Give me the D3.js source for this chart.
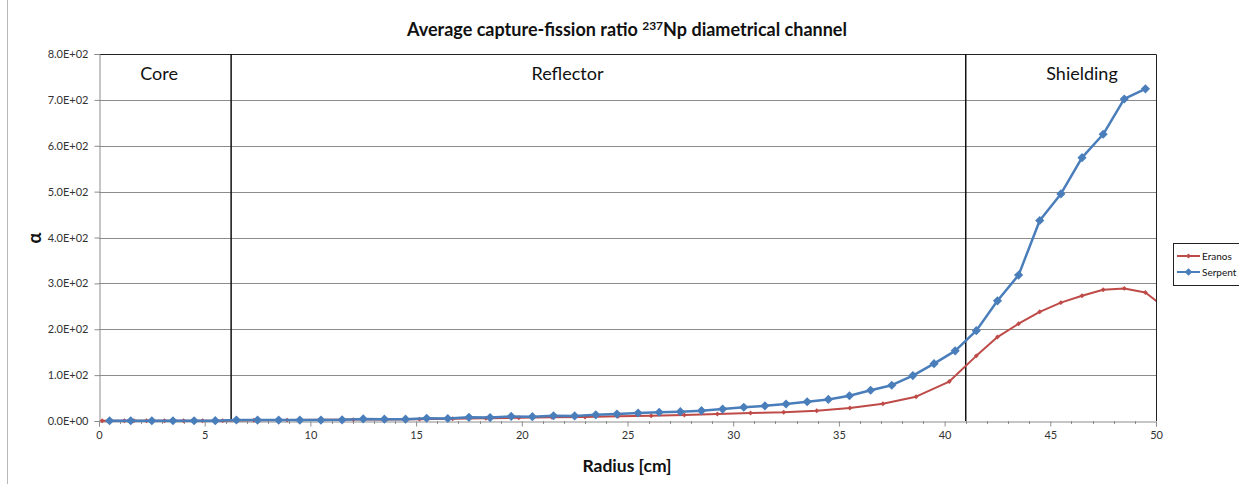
<!DOCTYPE html>
<html>
<head>
<meta charset="utf-8">
<script src="https://cdn.jsdelivr.net/npm/d3@7"></script>
<style>
  html, body { margin: 0; padding: 0; background: #fff; }
  svg { display: block; font-family: Lato, "Open Sans", sans-serif; }
</style>
</head>
<body>
<svg id="chart" width="1239" height="484"></svg>
<script>
// ---- Data ----
const serpentX = [0.5,1.5,2.5,3.5,4.5,5.5,6.5,7.5,8.5,9.5,10.5,11.5,12.5,13.5,14.5,15.5,16.5,17.5,18.5,19.5,20.5,21.5,22.5,23.5,24.5,25.5,26.5,27.5,28.5,29.5,30.5,31.5,32.5,33.5,34.5,35.5,36.5,37.5,38.5,39.5,40.5,41.5,42.5,43.5,44.5,45.5,46.5,47.5,48.5,49.5];
const serpentY = [0.5,0.6,0.5,0.6,0.6,0.7,2.2,2,2,2,2,2.5,4.5,4,4,6,5.5,8,7.5,10,9.5,11.5,11,13.5,15,17.4,19,20.3,22.5,26,30,33,37,42,47,55,67,78,99,125,153,197,262,318,437,495,574,625,702,724];
const eranosX = [0.15,1.2,1.65,2.25,3.1,4.0,4.9,5.85,7.33,8.9,10.46,12.03,13.6,15.16,16.73,18.3,19.86,21.43,22.99,24.55,26.12,27.69,29.25,30.82,32.39,33.95,35.52,37.08,38.65,40.22,41.5,42.5,43.5,44.5,45.5,46.5,47.5,48.5,49.5,50.5];
const eranosY = [0.5,0.5,0.6,0.6,0.6,0.7,0.7,0.8,1.5,2,2.5,3,3.5,4,5,6,7,8,8.7,10.2,11.6,13,15.3,17.4,19,22.5,28.4,37.7,53,86,142,183,212,238,258,273,286,289,280,244];
const seriesNames = ["Eranos", "Serpent"];
const xTicks = [0,5,10,15,20,25,30,35,40,45,50];
const yTicks = [0,100,200,300,400,500,600,700,800];
const boundaries = [6.25, 41];
const regionLabels = ["Core", "Reflector", "Shielding"];
const regionLabelX = [2.84, 22.16, 46.5];
const titleMain = "Average capture-fission ratio ";
const titleSup = "237";
const titleRest = "Np diametrical channel";

// ---- Layout ----
const svg = d3.select("#chart");
const L = 99, R = 1156, T = 54, B = 421;
const x = d3.scaleLinear().domain([0, 50]).range([L, R]);
const y = d3.scaleLinear().domain([0, 800]).range([B, T]);
const red = "#BE4B48", blue = "#4A7EBB";

// outer chart border (left edge)
svg.append("line").attr("x1", 7.5).attr("x2", 7.5).attr("y1", 0).attr("y2", 484)
  .attr("stroke", "#b8b8b8").attr("stroke-width", 1);

// gridlines
svg.append("g").selectAll("line").data(yTicks.filter(d => d > 0 && d < 800)).join("line")
  .attr("x1", L).attr("x2", R)
  .attr("y1", d => Math.round(y(d)) + 0.5).attr("y2", d => Math.round(y(d)) + 0.5)
  .attr("stroke", "#8c8c8c").attr("stroke-width", 1);

// plot border top/right
svg.append("path")
  .attr("d", `M${L},${T + 0.5}H${R + 0.5}V${B}`)
  .attr("fill", "none").attr("stroke", "#222").attr("stroke-width", 1);

// y axis
const yAxis = d3.axisLeft(y).tickValues(yTicks).tickSize(5).tickPadding(6)
  .tickFormat(d => d === 0 ? "0.0E+00" : (d / 100).toFixed(1) + "E+02");
const gy = svg.append("g").attr("transform", `translate(${L + 0.5},0)`).call(yAxis);
gy.select(".domain").attr("stroke", "#8c8c8c");
gy.selectAll(".tick line").attr("stroke", "#8c8c8c");
gy.selectAll("text").attr("font-size", 11).attr("fill", "#333").attr("font-family", "Lato, sans-serif");

// x axis minor ticks
const minor = d3.range(0, 51).filter(d => d % 5 !== 0);
svg.append("g").selectAll("line").data(minor).join("line")
  .attr("x1", d => Math.round(x(d)) + 0.5).attr("x2", d => Math.round(x(d)) + 0.5)
  .attr("y1", B).attr("y2", B + 3).attr("stroke", "#8c8c8c");
const xAxis = d3.axisBottom(x).tickValues(xTicks).tickSize(5).tickPadding(5).tickFormat(d3.format("d"));
const gx = svg.append("g").attr("transform", `translate(0,${B + 0.5})`).call(xAxis);
gx.select(".domain").attr("stroke", "#8c8c8c");
gx.selectAll(".tick line").attr("stroke", "#8c8c8c");
gx.selectAll("text").attr("font-size", 11).attr("fill", "#333").attr("font-family", "Lato, sans-serif");

// boundaries
svg.append("g").selectAll("line").data(boundaries).join("line")
  .attr("x1", d => x(d)).attr("x2", d => x(d)).attr("y1", T).attr("y2", B)
  .attr("stroke", "#111").attr("stroke-width", 1.5);

// region labels
svg.append("g").selectAll("text").data(regionLabels).join("text")
  .attr("x", (d, i) => x(regionLabelX[i])).attr("y", 80)
  .attr("text-anchor", "middle").attr("font-size", 18).attr("fill", "#111")
  .text(d => d);

// clip
svg.append("clipPath").attr("id", "clip").append("rect")
  .attr("x", L).attr("y", T - 10).attr("width", R - L).attr("height", B - T + 20);

const square = d3.symbol().type(d3.symbolSquare);
const plot = svg.append("g").attr("clip-path", "url(#clip)");

function drawSeries(xs, ys, color, lw, msize) {
  const pts = xs.map((v, i) => [v, ys[i]]);
  plot.append("path").datum(pts)
    .attr("d", d3.line().x(d => x(d[0])).y(d => y(d[1])))
    .attr("fill", "none").attr("stroke", color).attr("stroke-width", lw)
    .attr("stroke-linejoin", "round");
  plot.append("g").selectAll("path").data(pts).join("path")
    .attr("transform", d => `translate(${x(d[0])},${y(d[1])}) rotate(45)`)
    .attr("d", square.size(msize)).attr("fill", color);
}
drawSeries(eranosX, eranosY, red, 2, 12);
drawSeries(serpentX, serpentY, blue, 2.5, 42);

// title
const title = svg.append("text").attr("x", 627).attr("y", 36).attr("text-anchor", "middle")
  .attr("font-size", 18).attr("font-weight", "bold").attr("fill", "#111");
title.append("tspan").text(titleMain);
title.append("tspan").attr("font-size", 12).attr("dy", -6).text(titleSup);
title.append("tspan").attr("dy", 6).text(titleRest);

// axis titles
svg.append("text").attr("x", 627).attr("y", 472).attr("text-anchor", "middle")
  .attr("font-size", 17.5).attr("font-weight", "bold").attr("fill", "#111").text("Radius [cm]");
svg.append("text").attr("transform", "translate(41,238) rotate(-90)").attr("text-anchor", "middle")
  .attr("font-size", 18).attr("font-weight", "bold").attr("fill", "#111").text("α");

// legend
const lg = svg.append("g");
lg.append("rect").attr("x", 1173.5).attr("y", 243.5).attr("width", 70).attr("height", 42)
  .attr("fill", "#fff").attr("stroke", "#222");
const colors = [red, blue], sizes = [12, 30];
seriesNames.forEach((n, i) => {
  const yy = 256 + i * 16;
  lg.append("line").attr("x1", 1177).attr("x2", 1200).attr("y1", yy).attr("y2", yy)
    .attr("stroke", colors[i]).attr("stroke-width", 2);
  lg.append("path").attr("transform", `translate(1188.5,${yy}) rotate(45)`).attr("d", square.size(sizes[i])).attr("fill", colors[i]);
  lg.append("text").attr("x", 1202).attr("y", yy + 3.5).attr("font-size", 10).attr("fill", "#111").text(n);
});
</script>
</body>
</html>
